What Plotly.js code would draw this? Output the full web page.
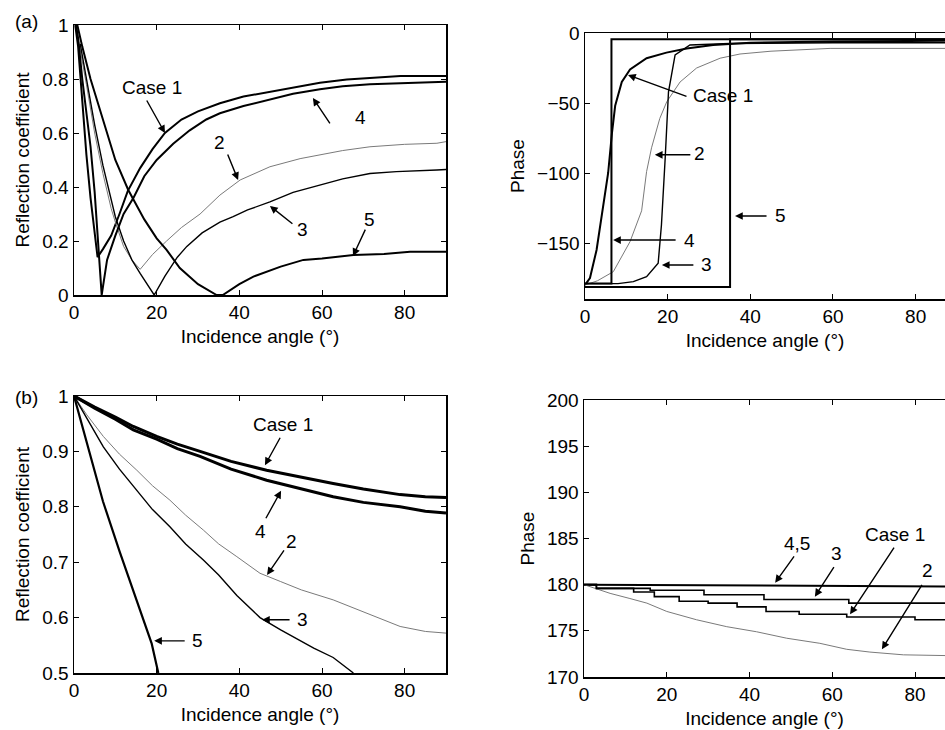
<!DOCTYPE html>
<html><head><meta charset="utf-8">
<script src="https://cdn.plot.ly/plotly-3.0.1.min.js"></script>
<style>html,body{margin:0;padding:0;background:#fff}#chart{width:945px;height:730px}</style>
</head><body><div id="chart"></div>
<script>
// ---------- (a) reflection coefficient ----------
const case1A_x = [0.3, 1, 2, 3, 4, 5, 5.7, 7, 9, 11, 13, 16, 19, 22, 26, 30, 35.3, 41, 47.4, 53, 59.5, 66, 72, 79, 85, 90];
const case1A_y = [1.0, 0.92, 0.72, 0.52, 0.36, 0.22, 0.14, 0.17, 0.22, 0.3, 0.385, 0.47, 0.54, 0.6, 0.65, 0.68, 0.71, 0.735, 0.753, 0.77, 0.786, 0.798, 0.805, 0.811, 0.811, 0.811];
const case2A_x = [1, 2, 3, 5, 7, 9, 10, 12, 14, 16, 19, 22.4, 26, 30.5, 35.3, 40.2, 47.4, 54.7, 59.5, 65, 71.6, 80, 87.8, 90];
const case2A_y = [0.95, 0.87, 0.78, 0.6, 0.45, 0.32, 0.27, 0.18, 0.13, 0.095, 0.15, 0.2, 0.25, 0.3, 0.37, 0.426, 0.475, 0.505, 0.519, 0.535, 0.549, 0.558, 0.562, 0.568];
const case3A_x = [1.5, 3, 5, 7, 9, 10, 12, 14, 16, 18, 19.4, 22, 25, 27.3, 31, 35.3, 38.5, 42, 47.4, 53, 59.5, 65, 71.6, 78, 87.8, 90];
const case3A_y = [0.93, 0.8, 0.63, 0.48, 0.35, 0.29, 0.2, 0.13, 0.08, 0.03, 0.0, 0.07, 0.14, 0.18, 0.23, 0.27, 0.29, 0.315, 0.345, 0.38, 0.407, 0.43, 0.45, 0.457, 0.463, 0.465];
const case4A_x = [0.5, 1, 2, 3, 4, 5, 6, 6.7, 8, 10, 12, 14.4, 17, 20, 24, 28, 32, 35.3, 41, 47.4, 53, 59.5, 65, 71.6, 78, 86, 90];
const case4A_y = [1.0, 0.95, 0.8, 0.68, 0.55, 0.38, 0.17, 0.0, 0.13, 0.22, 0.3, 0.36, 0.44, 0.5, 0.56, 0.61, 0.65, 0.673, 0.7, 0.725, 0.745, 0.762, 0.773, 0.781, 0.785, 0.788, 0.79];
const case5A_x = [0.8, 2, 4, 7, 10, 13.1, 17, 20, 22.4, 25.6, 30, 34.5, 36, 40, 43.4, 50, 55.5, 60, 67.6, 75, 81.3, 90];
const case5A_y = [1.0, 0.92, 0.8, 0.65, 0.5, 0.39, 0.28, 0.21, 0.167, 0.1, 0.04, 0.0, 0.0, 0.04, 0.068, 0.105, 0.13, 0.135, 0.148, 0.152, 0.16, 0.16];

// ---------- (a) phase ----------
const case1P_x = [0, 1.2, 2.8, 4.4, 5.6, 6.5, 7.3, 8.9, 10.9, 14.9, 19.7, 24.6, 31, 40, 60, 90];
const case1P_y = [-180, -175, -155, -124, -100, -72, -52, -35, -26, -18, -14, -11, -8.5, -7, -6, -5.5];
const case2P_x = [0, 3, 6.85, 10.9, 13.7, 14.9, 16.1, 18.1, 19.8, 23, 27, 32.7, 37.5, 45, 59.3, 90];
const case2P_y = [-180, -177, -170.5, -149, -127, -99, -82, -61, -49, -35, -25, -18, -15, -13, -11, -11];
const case3P_x = [0, 8, 11.7, 14.9, 17.7, 18.5, 19.4, 20.2, 21.8, 25.4, 35, 60, 90];
const case3P_y = [-179, -179, -177.6, -174, -164.5, -137, -89.5, -42, -15.7, -8.6, -7.5, -7, -7];
const case4P_x = [0, 6.4, 6.4, 90];
const case4P_y = [-179, -179, -4.5, -4.5];
const case5P_x = [0, 35.1, 35.1, 90];
const case5P_y = [-181.5, -181.5, -4.5, -4.5];

// ---------- (b) reflection coefficient ----------
const case1B_x = [0, 5, 10, 14.35, 20, 25, 30.5, 38, 46.6, 55, 62.7, 70, 78.9, 85, 90];
const case1B_y = [1.0, 0.98, 0.962, 0.945, 0.927, 0.913, 0.9, 0.882, 0.866, 0.853, 0.842, 0.832, 0.822, 0.818, 0.817];
const case2B_x = [0, 3, 7.1, 11, 15.2, 19, 23.2, 27, 31.3, 35, 39.4, 45, 50, 55, 62.7, 70.8, 78.9, 85, 90];
const case2B_y = [1.0, 0.967, 0.927, 0.895, 0.866, 0.838, 0.812, 0.785, 0.758, 0.733, 0.71, 0.68, 0.665, 0.65, 0.632, 0.608, 0.584, 0.575, 0.572];
const case3B_x = [0, 3, 7.1, 11, 15.2, 19, 23.2, 27, 31.3, 35, 39.4, 45, 50, 54.7, 58, 62.7, 65, 67.6];
const case3B_y = [1.0, 0.96, 0.908, 0.868, 0.83, 0.795, 0.764, 0.733, 0.704, 0.677, 0.64, 0.6, 0.578, 0.558, 0.545, 0.528, 0.515, 0.5];
const case4B_x = [0, 5, 10, 14.35, 20, 25, 30.5, 38, 46.6, 55, 62.7, 70, 78.9, 85, 90];
const case4B_y = [1.0, 0.978, 0.958, 0.939, 0.922, 0.905, 0.891, 0.868, 0.848, 0.832, 0.818, 0.808, 0.8, 0.792, 0.789];
const case5B_x = [0, 3, 7, 11, 15, 18.8, 20.4];
const case5B_y = [1.0, 0.92, 0.81, 0.72, 0.635, 0.553, 0.5];

// ---------- (b) phase ----------
const case45Q_x = [0, 30, 60, 90];
const case45Q_y = [180, 179.95, 179.85, 179.8];
const case1Q_x = [0, 3, 12, 17, 23, 30, 37, 44, 52, 63.5, 80, 90];
const case1Q_y = [180, 179.6, 179.2, 178.7, 178.2, 178.0, 177.6, 177.1, 176.8, 176.5, 176.2, 176.2];
const case2Q_x = [0, 6.3, 11.1, 15.2, 20, 27.2, 34.5, 41.7, 49, 57, 63.5, 69.1, 77.2, 90];
const case2Q_y = [180, 179.06, 178.5, 178.0, 177.1, 176.2, 175.45, 174.9, 174.2, 173.65, 173.0, 172.7, 172.4, 172.3];
const case3Q_x = [0, 3, 16, 29, 43.5, 64, 90];
const case3Q_y = [180, 179.6, 179.4, 178.9, 178.4, 178.0, 178.0];

const xTicks = [0, 20, 40, 60, 80];
const xTitle = 'Incidence angle (°)';
const yTitleR = 'Reflection coefficient';
const yTitleP = 'Phase';

const FONT = 'Liberation Sans, Arial, Helvetica, sans-serif';
const FS = 19;
const BLACK = '#000';
const GRAY = '#7a7a7a';

function tr(x, y, xa, ya, width, color, dash, shape) {
  return {x: x, y: y, xaxis: xa, yaxis: ya, type: 'scatter', mode: 'lines',
    line: {color: color || BLACK, width: width, dash: dash || 'solid', shape: shape || 'linear'},
    hoverinfo: 'skip'};
}

const data = [
  tr(case1A_x, case1A_y, 'x', 'y', 2, BLACK),
  tr(case2A_x, case2A_y, 'x', 'y', 1, GRAY),
  tr(case3A_x, case3A_y, 'x', 'y', 1.4, BLACK),
  tr(case4A_x, case4A_y, 'x', 'y', 2, BLACK),
  tr(case5A_x, case5A_y, 'x', 'y', 2, BLACK),

  tr(case1P_x, case1P_y, 'x2', 'y2', 2, BLACK),
  tr(case2P_x, case2P_y, 'x2', 'y2', 1, GRAY),
  tr(case3P_x, case3P_y, 'x2', 'y2', 1.4, BLACK),
  tr(case4P_x, case4P_y, 'x2', 'y2', 2, BLACK),
  tr(case5P_x, case5P_y, 'x2', 'y2', 2, BLACK),

  tr(case1B_x, case1B_y, 'x3', 'y3', 3, BLACK),
  tr(case2B_x, case2B_y, 'x3', 'y3', 1, GRAY),
  tr(case3B_x, case3B_y, 'x3', 'y3', 1.4, BLACK),
  tr(case4B_x, case4B_y, 'x3', 'y3', 3, BLACK),
  tr(case5B_x, case5B_y, 'x3', 'y3', 2.2, BLACK),

  tr(case45Q_x, case45Q_y, 'x4', 'y4', 2, BLACK),
  tr(case1Q_x, case1Q_y, 'x4', 'y4', 1.6, BLACK, 'solid', 'hv'),
  tr(case2Q_x, case2Q_y, 'x4', 'y4', 1, GRAY),
  tr(case3Q_x, case3Q_y, 'x4', 'y4', 1.6, BLACK, 'solid', 'hv')
];

function xaxis(domain, range, anchor, mirror) {
  return {domain: domain, range: range, anchor: anchor, tickvals: xTicks,
    ticks: 'inside', ticklen: 5, tickwidth: 1, tickcolor: BLACK,
    showline: true, linewidth: 1.5, linecolor: BLACK, mirror: mirror,
    showgrid: false, zeroline: false, automargin: false,
    tickfont: {family: FONT, size: FS, color: BLACK},
    title: {text: xTitle, font: {family: FONT, size: FS, color: BLACK}, standoff: 7}};
}
function yaxis(domain, range, anchor, dtick, title, mirror) {
  return {domain: domain, range: range, anchor: anchor, dtick: dtick, tick0: 0,
    ticks: 'inside', ticklen: 5, tickwidth: 1, tickcolor: BLACK,
    showline: true, linewidth: 1.5, linecolor: BLACK, mirror: mirror,
    showgrid: false, zeroline: false, automargin: false,
    tickfont: {family: FONT, size: FS, color: BLACK},
    title: {text: title, font: {family: FONT, size: FS, color: BLACK}, standoff: 7}};
}

const AF = {family: FONT, size: FS, color: BLACK};
function lab(xr, yr, x, y, t) {
  return {xref: xr, yref: yr, x: x, y: y, text: t, showarrow: false, font: AF,
    xanchor: 'center', yanchor: 'middle'};
}
function arr(xr, yr, x, y, ax, ay) {
  return {xref: xr, yref: yr, x: x, y: y, ax: ax, ay: ay, axref: 'pixel', ayref: 'pixel',
    text: '', showarrow: true, arrowhead: 2, arrowsize: 1.1, arrowwidth: 1.4, arrowcolor: BLACK, standoff: 0, startstandoff: 0};
}

const annotations = [
  // (a) left
  lab('x', 'y', 18.9, 0.77, 'Case 1'), arr('x', 'y', 22.0, 0.6, -19, -34),
  lab('x', 'y', 69.2, 0.656, '4'), arr('x', 'y', 57.8, 0.73, 18, 27),
  lab('x', 'y', 35.3, 0.563, '2'), arr('x', 'y', 39.7, 0.426, -11, -27),
  lab('x', 'y', 55.2, 0.244, '3'), arr('x', 'y', 47.4, 0.33, 24, 19),
  lab('x', 'y', 71.6, 0.281, '5'), arr('x', 'y', 67.5, 0.144, 13, -28),
  // (a) right
  lab('x2', 'y2', 33.5, -44.3, 'Case 1'), arr('x2', 'y2', 10.4, -30, 60, 22),
  lab('x2', 'y2', 27.8, -86.4, '2'), arr('x2', 'y2', 16.9, -87, 37, 0),
  lab('x2', 'y2', 47.2, -130, '5'), arr('x2', 'y2', 36.3, -130.7, 33, 0),
  lab('x2', 'y2', 25.4, -147.9, '4'), arr('x2', 'y2', 6.8, -147.9, 64, 0),
  lab('x2', 'y2', 29.3, -165.7, '3'), arr('x2', 'y2', 18.6, -165.7, 33, 0),
  // (b) left
  lab('x3', 'y3', 50.6, 0.948, 'Case 1'), arr('x3', 'y3', 46.2, 0.875, 16, -29),
  lab('x3', 'y3', 45.0, 0.756, '4'), arr('x3', 'y3', 50.1, 0.829, -16, 29),
  lab('x3', 'y3', 52.7, 0.738, '2'), arr('x3', 'y3', 46.7, 0.677, 18, -26),
  lab('x3', 'y3', 55.4, 0.597, '3'), arr('x3', 'y3', 45.5, 0.596, 29, 0),
  lab('x3', 'y3', 29.8, 0.558, '5'), arr('x3', 'y3', 19.4, 0.558, 32, 0),
  // (b) right
  lab('x4', 'y4', 51.5, 184.5, '4,5'), arr('x4', 'y4', 46.2, 180.2, 20, -28),
  lab('x4', 'y4', 61.1, 183.4, '3'), arr('x4', 'y4', 55.8, 178.7, 20, -31),
  lab('x4', 'y4', 75.2, 185.4, 'Case 1'), arr('x4', 'y4', 64.3, 176.8, 45, -68),
  lab('x4', 'y4', 83.1, 181.5, '2'), arr('x4', 'y4', 72.0, 173.0, 41, -66),
  // panel labels
  {xref: 'paper', yref: 'paper', x: 26 / 945, y: 1 - 21 / 730, text: '(a)', showarrow: false, font: AF, xanchor: 'center', yanchor: 'middle'},
  {xref: 'paper', yref: 'paper', x: 26 / 945, y: 1 - 397 / 730, text: '(b)', showarrow: false, font: AF, xanchor: 'center', yanchor: 'middle'}
];

const layout = {
  width: 945, height: 730,
  margin: {l: 0, r: 0, t: 0, b: 0},
  paper_bgcolor: '#fff', plot_bgcolor: '#fff',
  showlegend: false,
  font: {family: FONT, size: FS, color: BLACK},
  xaxis: xaxis([74 / 945, 446 / 945], [0, 90], 'y', 'ticks'),
  yaxis: yaxis([1 - 295 / 730, 1 - 25 / 730], [0, 1], 'x', 0.2, yTitleR, 'ticks'),
  xaxis2: xaxis([585 / 945, 1], [0, 87.1], 'y2', 'ticks'),
  yaxis2: yaxis([1 - 299 / 730, 1 - 33 / 730], [-190, 0], 'x2', 50, yTitleP, false),
  xaxis3: xaxis([74 / 945, 446 / 945], [0, 90], 'y3', 'ticks'),
  yaxis3: yaxis([1 - 673 / 730, 1 - 396 / 730], [0.5, 1], 'x3', 0.1, yTitleR, 'ticks'),
  xaxis4: xaxis([584 / 945, 1], [0, 87.25], 'y4', 'ticks'),
  yaxis4: yaxis([1 - 677 / 730, 1 - 400 / 730], [170, 200], 'x4', 5, yTitleP, false),
  annotations: annotations
};

Plotly.newPlot('chart', data, layout, {staticPlot: true, displayModeBar: false});
</script></body></html>
